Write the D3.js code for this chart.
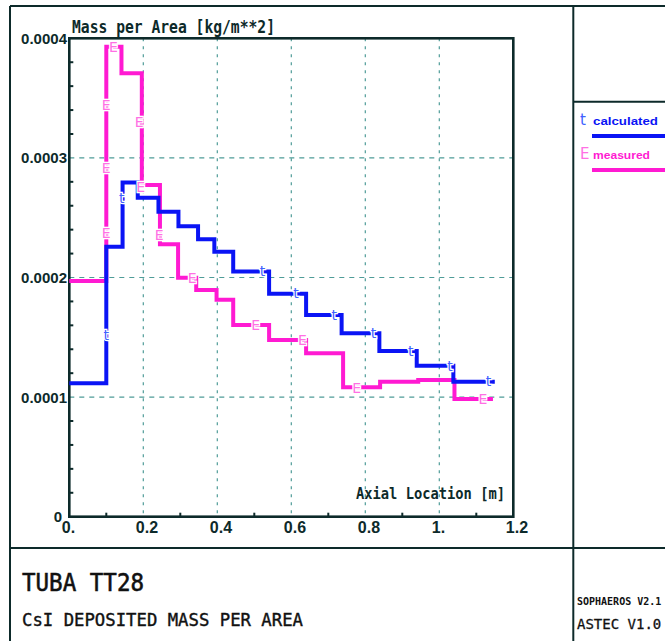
<!DOCTYPE html>
<html>
<head>
<meta charset="utf-8">
<script src="https://cdn.jsdelivr.net/npm/d3@7"></script>
<style>
  html, body { margin: 0; padding: 0; background: #fff; }
  svg { display: block; }
</style>
</head>
<body>
<svg id="chart" width="665" height="641"></svg>
<script>
// ---------------- DATA ----------------
const calcEdges  = [0, 0.1, 0.144, 0.185, 0.241, 0.295, 0.348, 0.392, 0.443, 0.54, 0.64, 0.736, 0.838, 0.939, 1.038, 1.15];
const calcValues = [1.115e-4, 2.258e-4, 2.795e-4, 2.667e-4, 2.55e-4, 2.428e-4, 2.32e-4, 2.216e-4, 2.05e-4, 1.865e-4, 1.686e-4, 1.533e-4, 1.385e-4, 1.263e-4, 1.129e-4];

const measEdges  = [0, 0.1, 0.141, 0.196, 0.245, 0.294, 0.343, 0.398, 0.443, 0.54, 0.64, 0.74, 0.84, 0.943, 1.041, 1.145];
const measValues = [1.971e-4, 3.93e-4, 3.707e-4, 2.773e-4, 2.278e-4, 1.998e-4, 1.895e-4, 1.815e-4, 1.603e-4, 1.477e-4, 1.366e-4, 1.082e-4, 1.129e-4, 1.143e-4, 9.84e-5];

// symbol markers along the curves (x, y in data units)
const calcMarkX = [0.1, 0.1416, 0.522, 0.613, 0.716, 0.822, 0.923, 1.029, 1.133];
const calcMarkY = [1.519e-4, 2.667e-4, 2.054e-4, 1.868e-4, 1.686e-4, 1.533e-4, 1.388e-4, 1.26e-4, 1.135e-4];
const measMarkX = [0.119, 0.1, 0.189, 0.1, 0.193, 0.1, 0.243, 0.332, 0.504, 0.63, 0.777, 1.118];
const measMarkY = [3.93e-4, 3.442e-4, 3.303e-4, 2.913e-4, 2.759e-4, 2.375e-4, 2.355e-4, 1.998e-4, 1.603e-4, 1.477e-4, 1.079e-4, 9.84e-5];

const xTickValues = [0, 0.2, 0.4, 0.6, 0.8, 1.0, 1.2];
const xTickLabels = ["0.", "0.2", "0.4", "0.6", "0.8", "1.", "1.2"];
const yTickValues = [0, 0.0001, 0.0002, 0.0003, 0.0004];
const yTickLabels = ["0", "0.0001", "0.0002", "0.0003", "0.0004"];

const seriesNames   = ["calculated", "measured"];
const seriesSymbols = ["t", "E"];

const titleY   = "Mass per Area [kg/m**2]";
const titleX   = "Axial Location [m]";
const caption1 = "TUBA TT28";
const caption2 = "CsI DEPOSITED MASS PER AREA";
const code1    = "SOPHAEROS V2.1";
const code2    = "ASTEC V1.0";

// ---------------- DRAW ----------------
const svg = d3.select("#chart");
const frameCol = "#0d2a2a";
const gridCol = "#4f9c98";
const blue = "#0a14f5";
const magenta = "#ff1ad2";
const blueMark = "#4060ff";
const magMark = "#ff70e4";

const x = d3.scaleLinear().domain([0, 1.2]).range([69.3, 513.3]);
const y = d3.scaleLinear().domain([0, 0.0004]).range([516.7, 38.3]);

// outer page frame
const frame = svg.append("g").attr("fill", "none").attr("stroke", frameCol).attr("stroke-width", 2);
frame.append("line").attr("x1", 10).attr("y1", 6).attr("x2", 665).attr("y2", 6);
frame.append("line").attr("x1", 10).attr("y1", 6).attr("x2", 10).attr("y2", 641);
frame.append("line").attr("x1", 573.3).attr("y1", 6).attr("x2", 573.3).attr("y2", 641);
frame.append("line").attr("x1", 573.3).attr("y1", 101.7).attr("x2", 665).attr("y2", 101.7);
frame.append("line").attr("x1", 10).attr("y1", 548).attr("x2", 665).attr("y2", 548);

// grid
const grid = svg.append("g").attr("stroke", gridCol).attr("stroke-width", 1.2).attr("fill", "none");
grid.selectAll("line.v").data(xTickValues.filter(v => v > 0 && v < 1.2)).join("line")
  .attr("x1", d => x(d)).attr("x2", d => x(d))
  .attr("y1", y(0.0004)).attr("y2", y(0))
  .attr("stroke-dasharray", "3,5");
grid.selectAll("line.h").data(yTickValues.filter(v => v > 0 && v < 0.0004)).join("line")
  .attr("x1", x(0)).attr("x2", x(1.2))
  .attr("y1", d => y(d)).attr("y2", d => y(d))
  .attr("stroke-dasharray", "5,5");

// minor ticks
const minorY = d3.range(1, 20).map(i => i * 0.00002).filter((v, i) => (i + 1) % 5 !== 0);
svg.append("g").selectAll("line").data(minorY).join("line")
  .attr("x1", x(0)).attr("x2", x(0) + 4)
  .attr("y1", d => y(d)).attr("y2", d => y(d))
  .attr("stroke", frameCol).attr("stroke-width", 2);
const minorX = [0.1, 0.3, 0.5, 0.7, 0.9, 1.1];
svg.append("g").selectAll("line").data(minorX).join("line")
  .attr("x1", d => x(d)).attr("x2", d => x(d))
  .attr("y1", y(0)).attr("y2", y(0) - 4)
  .attr("stroke", frameCol).attr("stroke-width", 2);

// plot box
svg.append("rect")
  .attr("x", x(0)).attr("y", y(0.0004))
  .attr("width", x(1.2) - x(0)).attr("height", y(0) - y(0.0004))
  .attr("fill", "none").attr("stroke", frameCol).attr("stroke-width", 2.6);

// tick labels
const tickFont = "'Liberation Sans', Arial, sans-serif";
svg.append("g").selectAll("text").data(yTickValues).join("text")
  .attr("x", (d, i) => yTickLabels[i] === "0" ? 62 : 67)
  .attr("y", d => y(d) + 5.5)
  .attr("text-anchor", "end")
  .attr("font-family", tickFont).attr("font-weight", "bold").attr("font-size", 15)
  .attr("fill", frameCol)
  .text((d, i) => yTickLabels[i]);
svg.append("g").selectAll("text").data(xTickValues).join("text")
  .attr("x", d => x(d) - 7.5)
  .attr("y", y(0) + 16)
  .attr("text-anchor", "start")
  .attr("font-family", tickFont).attr("font-weight", "bold").attr("font-size", 16)
  .attr("fill", frameCol)
  .text((d, i) => xTickLabels[i]);

// axis titles
const monoFont = "'DejaVu Sans Mono', 'Liberation Mono', monospace";
svg.append("text").attr("x", 72).attr("y", 33)
  .attr("font-family", monoFont).attr("font-size", 17).attr("font-weight", "bold")
  .attr("textLength", 203).attr("lengthAdjust", "spacingAndGlyphs")
  .attr("fill", frameCol).text(titleY);
svg.append("text").attr("x", 356).attr("y", 499)
  .attr("font-family", monoFont).attr("font-size", 16).attr("font-weight", "bold")
  .attr("textLength", 149).attr("lengthAdjust", "spacingAndGlyphs")
  .attr("fill", frameCol).text(titleX);

// step curves
const stepLine = d3.line().x(d => x(d[0])).y(d => y(d[1])).curve(d3.curveStepAfter);
function stepPoints(edges, values) {
  return edges.map((e, i) => [e, values[Math.min(i, values.length - 1)]]);
}
svg.append("path").datum(stepPoints(measEdges, measValues))
  .attr("d", stepLine).attr("fill", "none").attr("stroke", magenta).attr("stroke-width", 4);
svg.append("path").datum(stepPoints(calcEdges, calcValues))
  .attr("d", stepLine).attr("fill", "none").attr("stroke", blue).attr("stroke-width", 4);

// symbol markers
const markFont = "'DejaVu Sans', sans-serif";
function drawMarks(xs, ys, sym, col) {
  svg.append("g").selectAll("text").data(xs).join("text")
    .attr("x", d => x(d))
    .attr("y", (d, i) => y(ys[i]) + 5)
    .attr("text-anchor", "middle")
    .attr("font-family", markFont).attr("font-size", 14)
    .attr("fill", col)
    .attr("stroke", "#fff").attr("stroke-width", 2.5).attr("paint-order", "stroke")
    .text(sym);
}
drawMarks(calcMarkX, calcMarkY, seriesSymbols[0], blueMark);
drawMarks(measMarkX, measMarkY, seriesSymbols[1], magMark);

// legend
const legend = svg.append("g");
const legCols = [blue, magenta];
const legMark = [blueMark, magMark];
const legY = [125, 159];
seriesNames.forEach((name, i) => {
  legend.append("text").attr("x", 580).attr("y", legY[i])
    .attr("font-family", markFont).attr("font-size", 15)
    .attr("fill", legMark[i]).text(seriesSymbols[i]);
  legend.append("text").attr("x", 593).attr("y", legY[i])
    .attr("font-family", tickFont).attr("font-weight", "bold").attr("font-size", 11)
    .attr("textLength", i === 0 ? 65 : 57).attr("lengthAdjust", "spacingAndGlyphs")
    .attr("fill", legCols[i]).text(name);
  legend.append("line").attr("x1", 592).attr("x2", 668)
    .attr("y1", legY[i] + 11).attr("y2", legY[i] + 11)
    .attr("stroke", legCols[i]).attr("stroke-width", 4);
});

// captions
svg.append("text").attr("x", 22).attr("y", 591)
  .attr("font-family", monoFont).attr("font-size", 25)
  .attr("stroke", "#111").attr("stroke-width", 0.6)
  .attr("textLength", 122).attr("lengthAdjust", "spacingAndGlyphs")
  .attr("fill", "#111").text(caption1);
svg.append("text").attr("x", 22).attr("y", 626)
  .attr("font-family", monoFont).attr("font-size", 18)
  .attr("stroke", "#111").attr("stroke-width", 0.4)
  .attr("textLength", 281).attr("lengthAdjust", "spacingAndGlyphs")
  .attr("fill", "#111").text(caption2);
svg.append("text").attr("x", 577).attr("y", 605)
  .attr("font-family", monoFont).attr("font-size", 10).attr("font-weight", "bold")
  .attr("fill", "#111").text(code1);
svg.append("text").attr("x", 577).attr("y", 629)
  .attr("font-family", monoFont).attr("font-size", 14)
  .attr("stroke", "#111").attr("stroke-width", 0.3)
  .attr("fill", "#111").text(code2);
</script>
</body>
</html>
